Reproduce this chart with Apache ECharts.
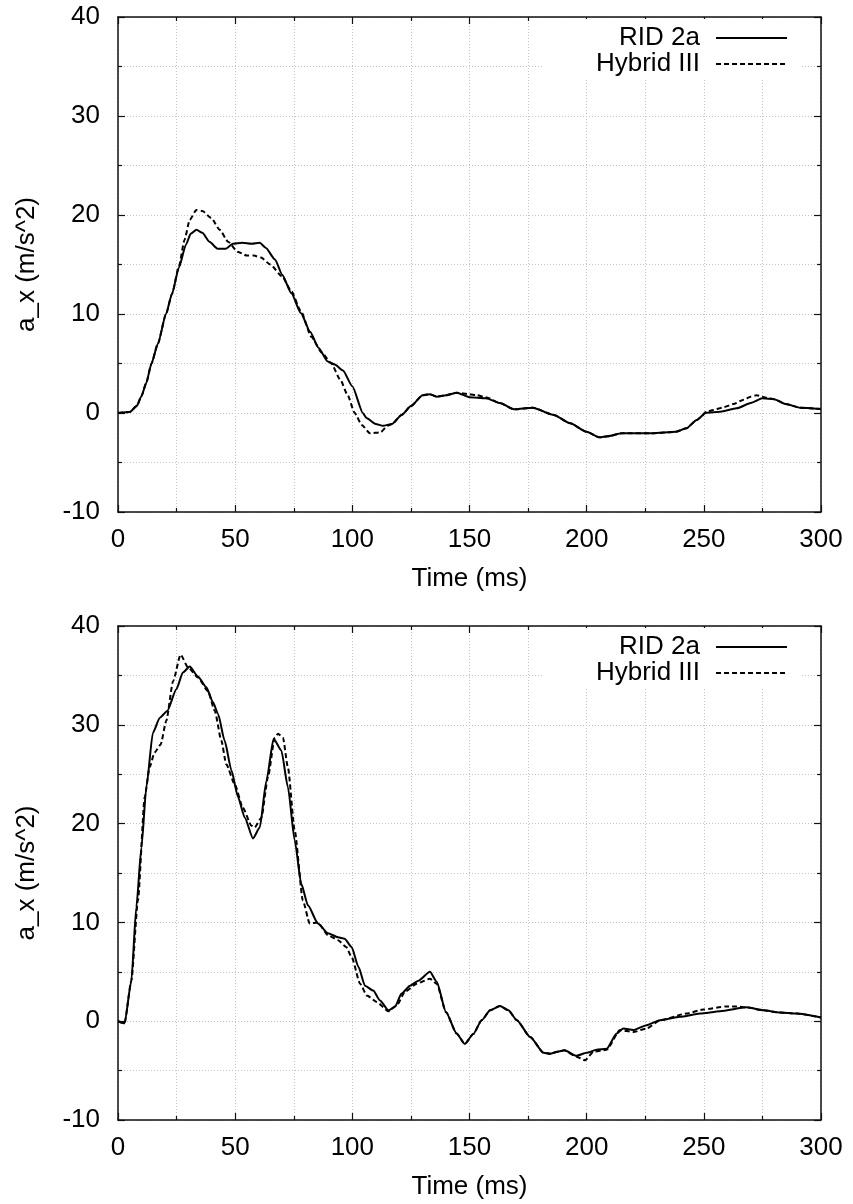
<!DOCTYPE html>
<html>
<head>
<meta charset="utf-8">
<script src="https://cdn.jsdelivr.net/npm/echarts@6/dist/echarts.min.js"></script>
<style>
html,body{margin:0;padding:0;background:#fff;}
#chart{width:853px;height:1204px;}
</style>
</head>
<body>
<div id="chart"></div>
<script>
// ---- data (time in ms, a_x in m/s^2) ----
const seriesNames = ['RID 2a', 'Hybrid III'];
const xTicks = [0, 50, 100, 150, 200, 250, 300];
const yTicks = [-10, 0, 10, 20, 30, 40];

const topRid = [
  [0,0],[5,0.1],[8,0.7],[10,1.7],[12,3.0],[14.3,5],[17,7],[20.5,10],[23,12],[26,14.7],[29,17],[31,18.1],
  [33.5,18.5],[36,18.2],[39,17.3],[42.5,16.6],[46,16.6],[49,17.1],[53,17.2],[57,17.1],[60.5,17.2],[63,16.7],
  [67,15.5],[70,14],[74,12.1],[78,10.1],[82,8.2],[85.5,6.6],[89.5,5.2],[92.5,4.9],[96,4.3],[100,2.7],
  [104.5,0],[106,-0.5],[110,-1.1],[113,-1.3],[117,-1.1],[121,-0.2],[125,0.7],[130,1.8],[133,1.9],[136,1.65],
  [140,1.8],[144.5,2.05],[150,1.6],[157,1.5],[163,1.0],[169,0.37],[177,0.54],[186,-0.2],[193,-1.04],[200,-1.9],
  [205.5,-2.46],[209,-2.35],[215,-2.05],[228,-2.05],[238,-1.9],[242.5,-1.55],[247,-0.7],[251,0.03],[257,0.13],
  [264,0.47],[270,1.0],[275,1.48],[280,1.4],[285,0.9],[291,0.54],[300,0.4]
];
const topHybrid = [
  [0,0],[5,0.1],[8,0.7],[10,1.7],[12,3.0],[14.3,5],[17,7],[20.5,10],[23,12],[26,14.8],[28.4,17.5],[30.6,19.5],
  [33.4,20.5],[36,20.4],[39.8,19.7],[43.4,18.5],[47,17.3],[51,16.3],[55,15.9],[58,15.9],[61,15.7],[65,15],
  [70,13.8],[74,12.3],[78,10.3],[82.5,7.7],[87,6.1],[91,5],[95,3.3],[98,1.8],[101,0],[104,-1.2],[107.5,-2.05],
  [112,-1.95],[115,-1.3],[117,-1.1],[121,-0.2],[125,0.7],[130,1.8],[133,1.9],[136,1.65],[140,1.8],[144.5,2.05],
  [150,1.9],[153,1.8],[157,1.6],[163,1.0],[169,0.37],[177,0.54],[186,-0.2],[193,-1.04],[200,-1.9],[205.5,-2.46],
  [209,-2.35],[215,-2.05],[228,-2.05],[238,-1.9],[242.5,-1.55],[247,-0.7],[251,0.1],[254,0.3],[258,0.55],
  [262.6,0.9],[267,1.35],[270,1.65],[272.5,1.8],[276.7,1.55],[280,1.4],[285,0.9],[291,0.54],[300,0.4]
];
const bottomRid = [
  [0,0],[2.8,-0.2],[5.7,4.1],[7.8,11.5],[10,17.6],[12.1,23.7],[14.9,29.2],[17.8,30.7],[21,31.4],[24.9,33.6],
  [27.7,35.3],[30.6,35.9],[34.1,34.9],[37.7,33.8],[40.5,32.3],[42.7,31.1],[45.5,28.4],[48.4,25.4],[51.2,22.7],
  [54.1,20.6],[57.6,18.5],[60.5,19.6],[63.3,24.3],[66.4,28.6],[69.7,27.4],[72.5,23.7],[75.4,18.3],[78.2,13.9],
  [81.1,11.7],[85.3,9.9],[89.6,8.9],[93.9,8.5],[96.7,8.35],[99.7,7.5],[102.6,5.5],[105.4,3.6],[108.9,3.1],
  [111.8,2.1],[115.4,1.1],[118.2,1.45],[121,2.8],[124.6,3.6],[128.2,4.1],[133.1,5.0],[136,4.0],[140,0.9],
  [144.5,-1.25],[148,-2.3],[151.6,-1.3],[155.2,0.1],[158.8,1.1],[163,1.55],[166.6,1.1],[170.2,0.1],[175.9,-1.6],
  [181.6,-3.2],[184.4,-3.3],[187.5,-3.1],[190.5,-2.95],[195.7,-3.5],[200,-3.2],[204.2,-2.9],[208.5,-2.8],
  [212.8,-1.25],[215.6,-0.74],[219.9,-0.9],[225.6,-0.4],[231.3,0.1],[239.8,0.44],[248.4,0.77],[256.9,1.0],
  [268.3,1.4],[275.4,1.1],[282.5,0.88],[289.6,0.77],[300,0.37]
];
const bottomHybrid = [
  [0,0],[2.8,-0.2],[5.7,4.1],[8.5,12.2],[11.4,22.7],[13.5,25.7],[15.6,27.2],[18.2,28],[20.6,30.4],[23.5,34.4],
  [26.7,37.1],[29.9,35.8],[34.1,34.8],[38.4,33.4],[41.3,31.4],[44.1,28.4],[46.2,26],[49.8,24],[53.3,21.6],
  [56.9,19.8],[58.3,19.6],[61.2,20.6],[64,24.7],[66.9,28.7],[68.3,29.1],[70.4,28.7],[72.5,25.7],[75.4,19.3],
  [78.9,12.2],[81.8,9.9],[85.3,10],[89.6,8.7],[93.9,8.2],[97.4,7.5],[99.7,6.5],[103.3,3.8],[106.2,2.6],
  [110.4,1.95],[115.4,1.0],[119,1.6],[122.5,3.0],[127.5,3.8],[133.1,4.3],[136,3.8],[140,0.9],
  [144.5,-1.25],[148,-2.3],[151.6,-1.3],[155.2,0.1],[158.8,1.1],[163,1.55],[166.6,1.1],[170.2,0.1],[175.9,-1.6],
  [181.6,-3.2],[184.4,-3.3],[187.5,-3.1],[190.5,-2.95],[195.7,-3.6],[199.3,-3.95],[202.9,-3.1],[208.5,-2.9],
  [214.2,-0.9],[219.9,-1.1],[225.6,-0.74],[231.3,0.1],[242.6,0.77],[249.7,1.18],[259.8,1.5],[264,1.5],
  [268.3,1.4],[275.4,1.1],[282.5,0.88],[289.6,0.77],[300,0.37]
];

// ---- styling ----
const FONT = '"Liberation Sans", Arial, Helvetica, sans-serif';
const AX = '#111';
const GRIDC = '#c4c4c4';

function xAxes(gridIndex) {
  const common = {
    type: 'value', gridIndex: gridIndex, min: xTicks[0], max: xTicks[xTicks.length - 1], interval: 50,
    axisLine: { show: true, onZero: false, lineStyle: { color: AX, width: 1.5 } },
    axisTick: { show: true, inside: true, length: 7, lineStyle: { color: AX, width: 1.2 } },
    minorTick: { show: true, splitNumber: 2, length: 4, lineStyle: { color: AX, width: 1.2 } }
  };
  return [
    Object.assign({}, common, {
      position: 'bottom',
      name: 'Time (ms)', nameLocation: 'middle', nameGap: 54,
      nameTextStyle: { fontFamily: FONT, fontSize: 26, color: '#000' },
      axisLabel: { show: true, margin: 15, fontFamily: FONT, fontSize: 26, color: '#000' },
      splitLine: { show: true, lineStyle: { color: GRIDC, width: 1, type: [1, 2] } },
      minorSplitLine: { show: true, lineStyle: { color: GRIDC, width: 1, type: [1, 2] } }
    }),
    Object.assign({}, common, {
      position: 'top',
      axisLabel: { show: false },
      splitLine: { show: false },
      minorSplitLine: { show: false }
    })
  ];
}
function yAxes(gridIndex) {
  const common = {
    type: 'value', gridIndex: gridIndex, min: yTicks[0], max: yTicks[yTicks.length - 1], interval: 10,
    axisLine: { show: true, onZero: false, lineStyle: { color: AX, width: 1.5 } },
    axisTick: { show: true, inside: true, length: 7, lineStyle: { color: AX, width: 1.2 } },
    minorTick: { show: true, splitNumber: 2, length: 4, lineStyle: { color: AX, width: 1.2 } }
  };
  return [
    Object.assign({}, common, {
      position: 'left',
      name: 'a_x (m/s^2)', nameLocation: 'middle', nameGap: 78,
      nameTextStyle: { fontFamily: FONT, fontSize: 26, color: '#000' },
      axisLabel: { show: true, margin: 18, fontFamily: FONT, fontSize: 26, color: '#000' },
      splitLine: { show: true, lineStyle: { color: GRIDC, width: 1, type: [1, 2] } },
      minorSplitLine: { show: true, lineStyle: { color: GRIDC, width: 1, type: [1, 2] } }
    }),
    Object.assign({}, common, {
      position: 'right',
      axisLabel: { show: false },
      splitLine: { show: false },
      minorSplitLine: { show: false }
    })
  ];
}
function legendAt(top) {
  return {
    orient: 'vertical', align: 'right', right: 51, top: top,
    data: seriesNames, itemWidth: 71, itemHeight: 14, itemGap: 0,
    backgroundColor: '#fff', padding: [6, 14, 1, 54],
    selectedMode: false,
    itemStyle: { color: 'rgba(0,0,0,0)', borderWidth: 0, opacity: 0 },
    textStyle: { fontFamily: FONT, fontSize: 26, color: '#000', lineHeight: 26, padding: [0, 11, 0, 0] }
  };
}
function lineSeries(name, data, xi, yi, dashed) {
  return {
    name: name, type: 'line', data: data, xAxisIndex: xi, yAxisIndex: yi,
    showSymbol: false, symbol: 'none', smooth: 0.2, smoothMonotone: 'x',
    lineStyle: { color: '#000', width: 2, type: dashed ? [5, 3] : 'solid' },
    itemStyle: { color: '#000' },
    animation: false
  };
}

const chart = echarts.init(document.getElementById('chart'), null, { renderer: 'canvas' });
chart.setOption({
  backgroundColor: '#fff',
  animation: false,
  grid: [
    { left: 118, top: 17, width: 703, height: 495, containLabel: false },
    { left: 118, top: 626, width: 703, height: 494, containLabel: false }
  ],
  legend: [legendAt(19), legendAt(628)],
  xAxis: xAxes(0).concat(xAxes(1)),
  yAxis: yAxes(0).concat(yAxes(1)),
  series: [
    lineSeries(seriesNames[0], topRid, 0, 0, false),
    lineSeries(seriesNames[1], topHybrid, 0, 0, true),
    lineSeries(seriesNames[0], bottomRid, 2, 2, false),
    lineSeries(seriesNames[1], bottomHybrid, 2, 2, true)
  ]
});
</script>
</body>
</html>
